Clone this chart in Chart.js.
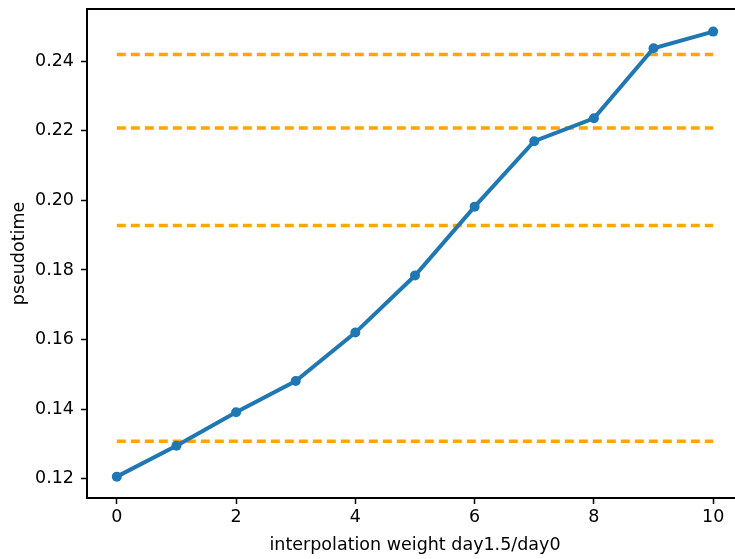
<!DOCTYPE html>
<html>
<head>
<meta charset="utf-8">
<script src="https://cdn.jsdelivr.net/npm/chart.js@4"></script>
<style>
  html, body { margin: 0; padding: 0; background: #fff; overflow: hidden; }
  #wrap { width: 750px; height: 559px; }
</style>
</head>
<body>
<div id="wrap"><canvas id="chart" width="750" height="559"></canvas></div>
<script>
const WEIGHTS = [0, 1, 2, 3, 4, 5, 6, 7, 8, 9, 10];
const PSEUDOTIME = [0.1206, 0.1295, 0.1391, 0.1481, 0.1620, 0.1784, 0.1982, 0.2170, 0.2236, 0.2437, 0.2485];
const REFERENCE_LEVELS = [0.1308, 0.1928, 0.2208, 0.2419];
const X_TICKS = [0, 2, 4, 6, 8, 10];
const Y_TICKS = [0.12, 0.14, 0.16, 0.18, 0.20, 0.22, 0.24];

const FONT = { family: 'DejaVu Sans', size: 17.5 };

var refDatasets = REFERENCE_LEVELS.map(level => {
    return {
        data: [{ x: 0, y: level }, { x: 10, y: level }],
        showLine: true,
        borderColor: '#ffa500',
        borderWidth: 3.5,
        borderDash: [9, 5],
        pointRadius: 0,
        order: 2
    }
});

var mainDataset = {
    data: WEIGHTS.map((w, i) => ({ x: w, y: PSEUDOTIME[i] })),
    showLine: true,
    borderColor: '#1f77b4',
    backgroundColor: '#1f77b4',
    borderWidth: 4,
    pointRadius: 5,
    pointBorderWidth: 0,
    pointHoverRadius: 5,
    order: 1
};

// box around the plot area, like matplotlib spines
const frame = {
    id: 'frame',
    afterDraw(chart) {
        const a = chart.chartArea;
        const ctx = chart.ctx;
        ctx.save();
        ctx.strokeStyle = '#000';
        ctx.lineWidth = 2;
        ctx.strokeRect(a.left, a.top, a.right - a.left, a.bottom - a.top);
        ctx.restore();
    }
};

new Chart(document.getElementById('chart'), {
    type: 'scatter',
    data: { datasets: [mainDataset].concat(refDatasets) },
    options: {
        responsive: false,
        animation: false,
        layout: { padding: { top: 9, right: 7, left: 0, bottom: 0 } },
        plugins: { legend: { display: false }, tooltip: { enabled: false } },
        scales: {
            x: {
                type: 'linear',
                min: -0.5,
                max: 10.5,
                afterBuildTicks: axis => { axis.ticks = X_TICKS.map(v => ({ value: v })); },
                afterFit: axis => { axis.height = 61; axis.paddingLeft = 0; axis.paddingRight = 0; },
                grid: { drawOnChartArea: false, tickLength: 6, tickWidth: 1.5, tickColor: '#000' },
                border: { display: false },
                ticks: { color: '#000', font: FONT, padding: 3, maxRotation: 0 },
                title: { display: true, text: 'interpolation weight day1.5/day0', color: '#000', font: FONT, padding: { top: 1, bottom: 3 } }
            },
            y: {
                min: 0.11446,
                max: 0.2550,
                afterBuildTicks: axis => { axis.ticks = Y_TICKS.map(v => ({ value: v })); },
                afterFit: axis => { axis.width = 87; axis.paddingTop = 0; axis.paddingBottom = 0; },
                grid: { drawOnChartArea: false, tickLength: 6, tickWidth: 1.5, tickColor: '#000' },
                border: { display: false },
                ticks: { color: '#000', font: FONT, padding: 7, callback: v => v.toFixed(2) },
                title: { display: true, text: 'pseudotime', color: '#000', font: FONT, padding: { top: 9, bottom: 0 } }
            }
        }
    },
    plugins: [frame]
});
</script>
</body>
</html>
